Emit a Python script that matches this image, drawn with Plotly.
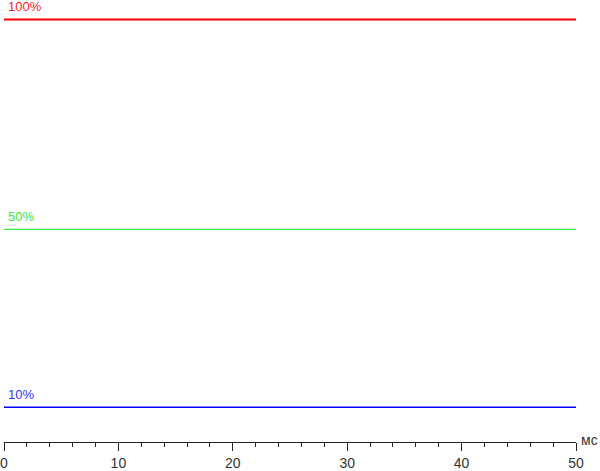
import plotly.graph_objects as go

# time samples (ms)
t_ms = [0, 5, 10, 15, 20, 25, 30, 35, 40, 45, 50]

# relative brightness readings (axis at 0)
red_100 = [100.0, 100.0, 100.0, 100.0, 100.0, 100.0, 100.0, 100.0, 100.0, 100.0, 100.0]
green_50 = [50.3, 50.3, 50.3, 50.3, 50.3, 50.3, 50.3, 50.3, 50.3, 50.3, 50.3]
blue_10 = [8.2, 8.2, 8.2, 8.2, 8.2, 8.2, 8.2, 8.2, 8.2, 8.2, 8.2]

labels = ["100%", "50%", "10%"]
colors = ["#ff0000", "#3ce63c", "#0000ff"]
label_colors = ["#ff2020", "#3ce63c", "#3030ff"]
widths = [2, 1.2, 1.5]
series = [red_100, green_50, blue_10]

fig = go.Figure()
for ys, c, w in zip(series, colors, widths):
    fig.add_trace(go.Scatter(x=t_ms, y=ys, mode="lines", line=dict(color=c, width=w), showlegend=False,
                             hoverinfo="skip"))

for lab, ys, c in zip(labels, series, label_colors):
    fig.add_annotation(x=0, y=ys[0], text=lab, showarrow=False, xanchor="left", yanchor="bottom",
                       xshift=2, yshift=3, font=dict(color=c, size=13, family="Liberation Sans, Arial"))

fig.add_annotation(x=1, y=0, xref="paper", yref="paper", text="мс", showarrow=False, xanchor="left",
                   yanchor="middle", xshift=3, yshift=2, font=dict(color="#333333", size=14, family="Liberation Sans, Arial"))

fig.update_layout(
    width=600, height=471,
    margin=dict(l=4, r=24, t=0, b=24),
    paper_bgcolor="white", plot_bgcolor="white",
    font=dict(family="Liberation Sans, Arial", size=13, color="#333333"),
    xaxis=dict(range=[0, 50], showgrid=False, zeroline=False, showline=True, linecolor="#222222", linewidth=1,
               ticks="outside", ticklen=8, tickcolor="#222222", tickvals=[0, 10, 20, 30, 40, 50],
               minor=dict(ticks="outside", ticklen=4, tickcolor="#222222", dtick=2, showgrid=False),
               tickfont=dict(size=14, color="#333333")),
    yaxis=dict(range=[0, 104.6], visible=False, showgrid=False, zeroline=False),
)

fig.write_html("out.html", config={"displayModeBar": False},
               post_script="document.body.style.margin='0';")
